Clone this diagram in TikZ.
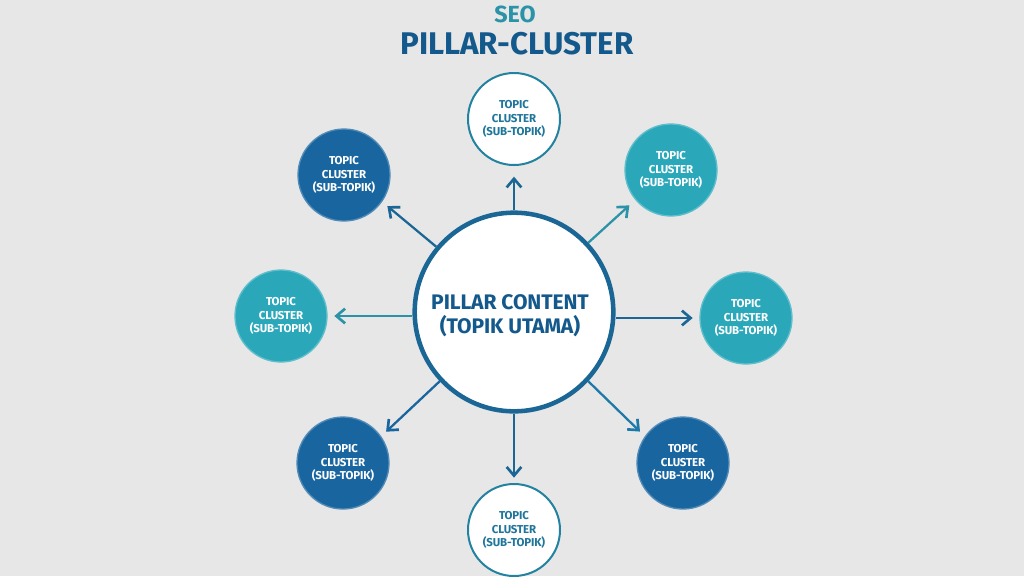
\documentclass[tikz,border=0pt]{standalone}
\usepackage{fontspec}
\setmainfont{Fira Sans}
\usetikzlibrary{arrows.meta}
\definecolor{bgc}{HTML}{E7E7E7}
\definecolor{navy}{HTML}{14598C}
\definecolor{deep}{HTML}{18659F}
\definecolor{teal}{HTML}{2AA8BA}
\definecolor{tealtxt}{HTML}{2A93A8}
\definecolor{ringc}{HTML}{1A6796}
\tikzset{
  x=0.75pt,y=-0.75pt,
  leaf/.style={circle,minimum size=69pt,inner sep=0pt,align=center,font=\fontsize{8.6}{10.1}\selectfont\bfseries\addfontfeatures{LetterSpace=-1.5}},
  leafwhite/.style={leaf,draw=tealtxt!70!navy,line width=1.5pt,fill=white,text=tealtxt!50!navy},
  leafteal/.style={leaf,draw=teal!75!white,line width=1pt,fill=teal,text=white},
  leafdeep/.style={leaf,draw=deep!75!white,line width=1pt,fill=deep,text=white},
  hub/.style={circle,minimum size=149pt,inner sep=0pt,draw=ringc,line width=3.4pt,fill=white},
  hublabel/.style={text=navy,align=center,font=\fontsize{15.8}{18}\selectfont\bfseries\addfontfeatures{LetterSpace=-0.5}},
  link/.style={line width=1.7pt,-{Straight Barb[length=6.5pt,width=11pt,line width=2pt]}},
}
\begin{document}
\begin{tikzpicture}
\useasboundingbox (0,0) rectangle (1024,576);
\fill[bgc] (0,0) rectangle (1024,576);
\node[text=tealtxt,font=\fontsize{17.5}{18}\selectfont\bfseries] (seo) at (515,14) {SEO};
\node[text=navy,font=\fontsize{23.5}{24}\selectfont\bfseries] (title) at (517,44) {PILLAR-CLUSTER};
\node[hub] (hub) at (514,312) {};
\node[hublabel] (hubtext) at (510,316) {PILLAR CONTENT\\(TOPIK UTAMA)};
\node[leafwhite] (n) at (514,119) {TOPIC\\CLUSTER\\(SUB-TOPIK)};
\node[leafteal] (ne) at (671,170) {TOPIC\\CLUSTER\\(SUB-TOPIK)};
\node[leafteal] (e) at (746,318) {TOPIC\\CLUSTER\\(SUB-TOPIK)};
\node[leafdeep] (se) at (683,463) {TOPIC\\CLUSTER\\(SUB-TOPIK)};
\node[leafwhite] (s) at (514,530) {TOPIC\\CLUSTER\\(SUB-TOPIK)};
\node[leafdeep] (sw) at (343,463) {TOPIC\\CLUSTER\\(SUB-TOPIK)};
\node[leafteal] (w) at (281,316) {TOPIC\\CLUSTER\\(SUB-TOPIK)};
\node[leafdeep] (nw) at (344,175) {TOPIC\\CLUSTER\\(SUB-TOPIK)};
\draw[link,ringc,shorten >=8pt] (hub) -- (n);
\draw[link,tealtxt,shorten >=6pt] (hub.43) -- (ne.220);
\draw[link,ringc,shorten >=5pt] (hub.east |- e) -- (e);
\draw[link,deep!70!teal,shorten >=5pt] (hub.-43) -- (se.145);
\draw[link,ringc,shorten >=4pt] (hub) -- (s);
\draw[link,deep,shorten >=5pt] (hub.223) -- (sw.35);
\draw[link,tealtxt,shorten >=5pt] (hub.west |- w) -- (w);
\draw[link,ringc,shorten >=5pt] (hub.140) -- (nw.-35);
\end{tikzpicture}
\end{document}
